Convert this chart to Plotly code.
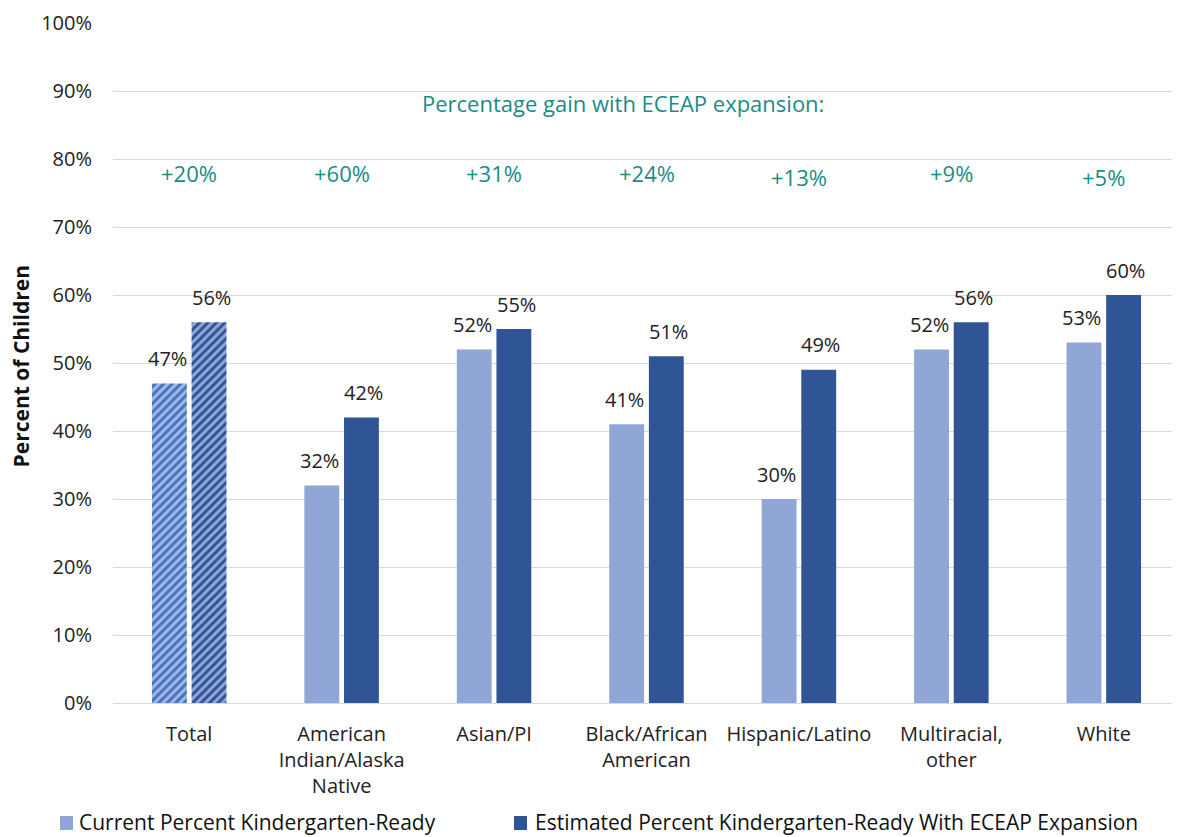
import plotly.graph_objects as go

categories = ["Total", "American<br>Indian/Alaska<br>Native", "Asian/PI", "Black/African<br>American",
              "Hispanic/Latino", "Multiracial,<br>other", "White"]
current = [47, 32, 52, 41, 30, 52, 53]
expanded = [56, 42, 55, 51, 49, 56, 60]
gains = ["+20%", "+60%", "+31%", "+24%", "+13%", "+9%", "+5%"]
gain_y = [77.9, 77.9, 77.9, 77.9, 77.3, 77.9, 77.3]
series_names = ["Current Percent Kindergarten-Ready",
                "Estimated Percent Kindergarten-Ready With ECEAP Expansion"]

LIGHT = "#8FA6D6"
DARK = "#2F5597"
TEAL = "#1A8C86"
FONT = "'Open Sans', sans-serif"

# page has 8px body margin -> figure shifted by (8, 8)
W, H = 1172, 829
L, R, T, B = 105, 0, 15, 134
PW, PH = W - L - R, H - T - B


def px_x(x):  # figure pixel -> paper x
    return (x - L) / PW


def px_y(y):  # figure pixel -> paper y
    return (H - B - y) / PH


shapes_pat = ["/"] + [""] * (len(categories) - 1)

fig = go.Figure()
fig.add_trace(go.Bar(
    x=categories, y=current, name=series_names[0], showlegend=False,
    marker=dict(color=["#4472C4"] + [LIGHT] * 6, line=dict(width=0),
                pattern=dict(shape=shapes_pat, fgcolor="white", size=6, solidity=0.5)),
))
fig.add_trace(go.Bar(
    x=categories, y=expanded, name=series_names[1], showlegend=False,
    marker=dict(color=["#2A52A0"] + [DARK] * 6, line=dict(width=0),
                pattern=dict(shape=shapes_pat, fgcolor="white", size=6, solidity=0.5)),
))

annotations = []
for c, v1, v2 in zip(categories, current, expanded):
    annotations.append(dict(x=c, y=v1, text=f"{v1}%", showarrow=False, xshift=-22, yshift=25,
                            font=dict(size=20, color="#222", family=FONT)))
    annotations.append(dict(x=c, y=v2, text=f"{v2}%", showarrow=False, xshift=22, yshift=25,
                            font=dict(size=20, color="#222", family=FONT)))
for c, g, gy in zip(categories, gains, gain_y):
    annotations.append(dict(x=c, y=gy, text=g, showarrow=False,
                            font=dict(size=22, color=TEAL, family=FONT)))
annotations.append(dict(x=px_x(615), xref="paper", xanchor="center", y=88.3,
                        text="Percentage gain with ECEAP expansion:",
                        showarrow=False, font=dict(size=22, color=TEAL, family=FONT)))
annotations.append(dict(x=px_x(13), xref="paper", xanchor="center", y=49.5, textangle=-90,
                        text="<b>Percent of Children</b>", showarrow=False,
                        font=dict(size=21, color="#111", family=FONT)))

# manual legend
leg_shapes = []
for name, color, sx, tx in [(series_names[0], LIGHT, 52, 69), (series_names[1], DARK, 506, 525)]:
    leg_shapes.append(dict(type="rect", xref="paper", yref="paper",
                           x0=px_x(sx), x1=px_x(sx + 13), y0=px_y(822), y1=px_y(808),
                           fillcolor=color, line=dict(width=0)))
    annotations.append(dict(x=px_x(tx), xref="paper", y=px_y(814), yref="paper",
                            xanchor="left", yanchor="middle", text=name, showarrow=False,
                            font=dict(size=21, color="#111", family=FONT)))

fig.update_layout(
    width=W, height=H,
    margin=dict(l=L, r=R, t=T, b=B, autoexpand=False),
    plot_bgcolor="white", paper_bgcolor="white",
    barmode="group", bargap=0.48, bargroupgap=0.12,
    font=dict(family=FONT, size=20, color="#222"),
    annotations=annotations, shapes=leg_shapes, showlegend=False,
    xaxis=dict(tickfont=dict(size=20), showline=True, linecolor="#d9d9d9", linewidth=1,
               ticks="", automargin=False, ticklabelstandoff=13),
    yaxis=dict(range=[0, 100], dtick=10, ticksuffix="%", gridcolor="#d9d9d9", gridwidth=1,
               tickfont=dict(size=20), zeroline=False, automargin=False,
               ticklabelstandoff=20, ticklabeloverflow="allow"),
)
fig.write_html("out.html")
